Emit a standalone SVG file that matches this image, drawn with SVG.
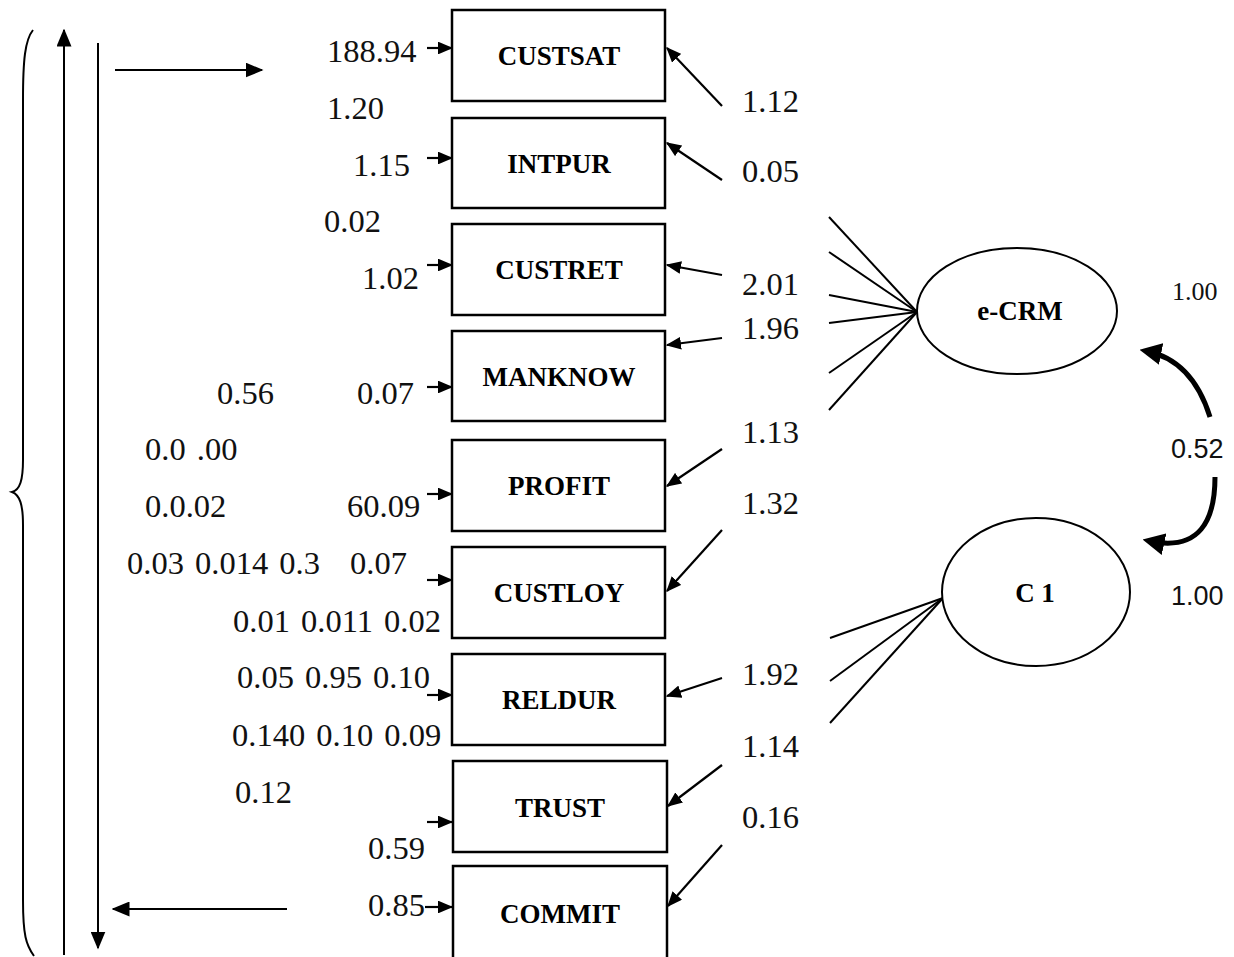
<svg xmlns="http://www.w3.org/2000/svg" width="1234" height="957" viewBox="0 0 1234 957">
<style>
.box{fill:#fff;stroke:#000;stroke-width:2.5}
.ell{fill:#fff;stroke:#000;stroke-width:2}
.lbl{font-family:"Liberation Serif",serif;font-weight:bold;font-size:27px;fill:#000;text-anchor:middle}
.num{font-family:"Liberation Serif",serif;font-size:32.5px;fill:#111;word-spacing:3px}
.sans{font-family:"Liberation Sans",sans-serif;font-size:27px;fill:#111}
.ln{stroke:#000;stroke-width:2;fill:none}
.arr{stroke:#000;stroke-width:2.2;fill:none;marker-end:url(#ah)}
.big{stroke:#000;stroke-width:2;fill:none;marker-end:url(#ahb)}
.thick{stroke:#000;stroke-width:5;fill:none;marker-end:url(#aht)}
</style>
<defs>
<marker id="ah" viewBox="0 0 12 10" refX="11" refY="5" markerWidth="7" markerHeight="5.8" orient="auto" markerUnits="strokeWidth"><path d="M0,0 L12,5 L0,10 z" fill="#000"/></marker>
<marker id="ahb" viewBox="0 0 12 10" refX="11" refY="5" markerWidth="9" markerHeight="7.5" orient="auto" markerUnits="strokeWidth"><path d="M0,0 L12,5 L0,10 z" fill="#000"/></marker>
<marker id="aht" viewBox="0 0 10 10" refX="7" refY="5" markerWidth="4.4" markerHeight="4.4" orient="auto" markerUnits="strokeWidth"><path d="M0,0 L10,5 L0,10 z" fill="#000"/></marker>
</defs>

<g id="connectors">
<path class="ln" d="M33,30 C25,40 23,60 23,100 L23,460 C23,480 20,490 12,492 C20,495 23,505 23,525 L23,900 C23,935 26,945 34,956"/>
<line class="big" x1="64" y1="955" x2="64" y2="30"/>
<line class="big" x1="98" y1="43" x2="98" y2="948"/>
<line class="big" x1="115" y1="70" x2="262" y2="70"/>
<line class="big" x1="287" y1="909" x2="113" y2="909"/>

<line class="arr" x1="427" y1="48" x2="452" y2="48"/>
<line class="arr" x1="427" y1="158" x2="452" y2="158"/>
<line class="arr" x1="427" y1="265" x2="452" y2="265"/>
<line class="arr" x1="427" y1="387" x2="452" y2="387"/>
<line class="arr" x1="427" y1="494" x2="452" y2="494"/>
<line class="arr" x1="427" y1="580" x2="452" y2="580"/>
<line class="arr" x1="427" y1="695" x2="452" y2="695"/>
<line class="arr" x1="427" y1="822" x2="452" y2="822"/>
<line class="arr" x1="425" y1="907" x2="452" y2="907"/>

<line class="arr" x1="722" y1="106" x2="667" y2="48"/>
<line class="arr" x1="722" y1="180" x2="667" y2="143"/>
<line class="arr" x1="722" y1="275" x2="667" y2="265"/>
<line class="arr" x1="722" y1="338" x2="667" y2="345"/>
<line class="arr" x1="722" y1="449" x2="667" y2="486"/>
<line class="arr" x1="722" y1="530" x2="667" y2="591"/>
<line class="arr" x1="722" y1="678" x2="667" y2="696"/>
<line class="arr" x1="722" y1="765" x2="668" y2="806"/>
<line class="arr" x1="722" y1="845" x2="668" y2="906"/>

<line class="ln" x1="829" y1="217" x2="917" y2="312"/>
<line class="ln" x1="829" y1="252" x2="917" y2="312"/>
<line class="ln" x1="829" y1="295" x2="917" y2="312"/>
<line class="ln" x1="829" y1="323" x2="917" y2="312"/>
<line class="ln" x1="829" y1="373" x2="917" y2="312"/>
<line class="ln" x1="829" y1="410" x2="917" y2="312"/>

<line class="ln" x1="830" y1="638" x2="943" y2="598"/>
<line class="ln" x1="830" y1="681" x2="943" y2="598"/>
<line class="ln" x1="830" y1="723" x2="943" y2="598"/>

<path class="thick" d="M1210,417 C1200,385 1182,358 1146,351"/>
<path class="thick" d="M1215,477 C1215,520 1200,552 1149,541"/>
</g>

<g id="CUSTSAT"><rect class="box" x="452" y="10" width="213" height="91"/><text class="lbl" x="559" y="65">CUSTSAT</text></g>
<g id="INTPUR"><rect class="box" x="452" y="118" width="213" height="90"/><text class="lbl" x="559" y="173">INTPUR</text></g>
<g id="CUSTRET"><rect class="box" x="452" y="224" width="213" height="91"/><text class="lbl" x="559" y="279">CUSTRET</text></g>
<g id="MANKNOW"><rect class="box" x="452" y="331" width="213" height="90"/><text class="lbl" x="559" y="386">MANKNOW</text></g>
<g id="PROFIT"><rect class="box" x="452" y="440" width="213" height="91"/><text class="lbl" x="559" y="495">PROFIT</text></g>
<g id="CUSTLOY"><rect class="box" x="452" y="547" width="213" height="91"/><text class="lbl" x="559" y="602">CUSTLOY</text></g>
<g id="RELDUR"><rect class="box" x="452" y="654" width="213" height="91"/><text class="lbl" x="559" y="709">RELDUR</text></g>
<g id="TRUST"><rect class="box" x="453" y="761" width="214" height="91"/><text class="lbl" x="560" y="817">TRUST</text></g>
<g id="COMMIT"><rect class="box" x="453" y="866" width="214" height="100"/><text class="lbl" x="560" y="923">COMMIT</text></g>

<g id="e-CRM"><ellipse class="ell" cx="1017" cy="311" rx="100" ry="63"/><text class="lbl" x="1020" y="320">e-CRM</text></g>
<g id="C1"><ellipse class="ell" cx="1036" cy="592" rx="94" ry="74"/><text class="lbl" x="1035" y="602">C 1</text></g>

<g id="labels">
<text class="num" x="327" y="62">188.94</text>
<text class="num" x="327" y="119">1.20</text>
<text class="num" x="353" y="176">1.15</text>
<text class="num" x="324" y="232">0.02</text>
<text class="num" x="362" y="289">1.02</text>
<text class="num" x="217" y="404">0.56</text>
<text class="num" x="357" y="404">0.07</text>
<text class="num" x="145" y="460">0.0 .00</text>
<text class="num" x="145" y="517">0.0.02</text>
<text class="num" x="347" y="517">60.09</text>
<text class="num" x="127" y="574">0.03 0.014 0.3</text>
<text class="num" x="350" y="574">0.07</text>
<text class="num" x="233" y="632">0.01 0.011 0.02</text>
<text class="num" x="237" y="688">0.05 0.95 0.10</text>
<text class="num" x="232" y="746">0.140 0.10 0.09</text>
<text class="num" x="235" y="803">0.12</text>
<text class="num" x="368" y="859">0.59</text>
<text class="num" x="368" y="916">0.85</text>

<text class="num" x="742" y="112">1.12</text>
<text class="num" x="742" y="182">0.05</text>
<text class="num" x="742" y="295">2.01</text>
<text class="num" x="742" y="339">1.96</text>
<text class="num" x="742" y="443">1.13</text>
<text class="num" x="742" y="514">1.32</text>
<text class="num" x="742" y="685">1.92</text>
<text class="num" x="742" y="757">1.14</text>
<text class="num" x="742" y="828">0.16</text>

<text class="num" x="1172" y="300" style="font-size:26px">1.00</text>
<text class="sans" x="1171" y="458">0.52</text>
<text class="sans" x="1171" y="605">1.00</text>
</g>
</svg>
